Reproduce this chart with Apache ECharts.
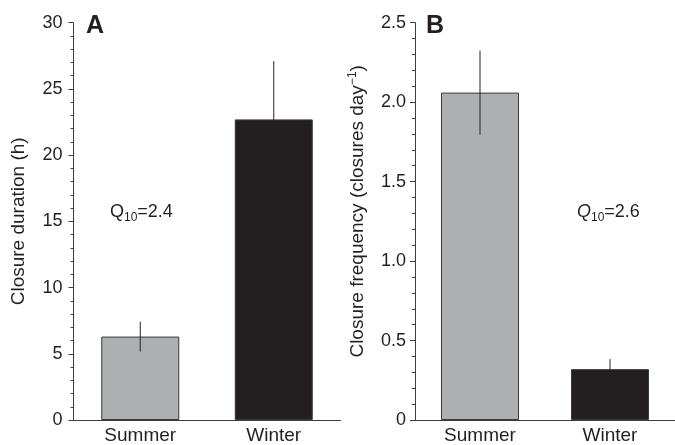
<!DOCTYPE html>
<html>
<head>
<meta charset="utf-8">
<script src="https://cdn.jsdelivr.net/npm/echarts@6/dist/echarts.min.js"></script>
<style>
html,body{margin:0;padding:0;background:#fff;}
#chart{width:675px;height:445px;}
</style>
</head>
<body>
<div id="chart"></div>
<script>
const categories = ['Summer', 'Winter'];
const durationMean = [6.3, 22.7];
const durationErr = [1.13, 4.4];
const frequencyMean = [2.06, 0.32];
const frequencyErr = [0.265, 0.063];
const q10Values = ['2.4', '2.6'];
const panelLetters = ['A', 'B'];
const barColors = ['#adafb1', '#231f20'];

const ink = '#231f20';
const axisColor = '#3d3d3d';
const fontFamily = '"Liberation Sans", Arial, Helvetica, sans-serif';

const chart = echarts.init(document.getElementById('chart'), null, {renderer: 'canvas'});

function barData(vals) {
  return vals.map((v, i) => ({value: v, itemStyle: {color: barColors[i]}}));
}
function errData(means, errs) {
  return means.map((m, i) => [i, m, errs[i]]);
}
function errRender(params, api) {
  const i = api.value(0), m = api.value(1), e = api.value(2);
  const top = api.coord([i, m + e]);
  const bot = api.coord([i, m - e]);
  return {
    type: 'line',
    shape: {x1: top[0], y1: top[1], x2: bot[0], y2: bot[1]},
    style: {stroke: '#262324', lineWidth: 1}
  };
}

function xAxisCfg(gi) {
  return {
    type: 'category', gridIndex: gi, data: categories,
    axisLine: {lineStyle: {color: axisColor, width: 1}},
    axisTick: {alignWithLabel: true, length: 6, lineStyle: {color: axisColor}},
    axisLabel: {color: ink, fontSize: 19, fontFamily: fontFamily, margin: 6}
  };
}
function yAxisCfg(gi, max, interval, fmt, name, nameGap, labelMargin, namePadding) {
  return {
    type: 'value', gridIndex: gi, min: 0, max: max, interval: interval,
    splitLine: {show: false},
    axisLine: {show: true, lineStyle: {color: axisColor, width: 1}},
    axisTick: {show: true, length: 5, lineStyle: {color: axisColor}},
    minorTick: {show: true, splitNumber: 5, length: 3, lineStyle: {color: axisColor}},
    axisLabel: {color: ink, fontSize: 18, fontFamily: fontFamily, margin: labelMargin, formatter: fmt},
    name: name, nameLocation: 'middle', nameGap: nameGap,
    nameTextStyle: {
      color: ink, fontSize: 19, fontFamily: fontFamily, padding: namePadding,
      rich: {
        n: {color: ink, fontSize: 19, fontFamily: fontFamily, lineHeight: 22, verticalAlign: 'middle'},
        sup: {color: ink, fontSize: 12, fontFamily: fontFamily, lineHeight: 22, verticalAlign: 'top', padding: [0, 0, 8, 0]}
      }
    }
  };
}

function q10Text(v, italic) {
  return (italic ? '{qi|Q}' : '{q|Q}') + '{s|10}{n|=' + v + '}';
}
const q10Rich = {
  q: {fill: ink, fontSize: 18, fontFamily: fontFamily, lineHeight: 24, verticalAlign: 'middle'},
  qi: {fill: ink, fontSize: 18, fontStyle: 'italic', fontFamily: fontFamily, lineHeight: 24, verticalAlign: 'middle'},
  s: {fill: ink, fontSize: 12, fontFamily: fontFamily, lineHeight: 13, verticalAlign: 'bottom'},
  n: {fill: ink, fontSize: 18, fontFamily: fontFamily, lineHeight: 24, verticalAlign: 'middle'}
};

const option = {
  backgroundColor: '#fff',
  animation: false,
  grid: [
    {left: 73.5, top: 22.7, width: 267, bottom: 24.3},
    {left: 415, top: 22.7, width: 267, bottom: 24.3}
  ],
  xAxis: [xAxisCfg(0), xAxisCfg(1)],
  yAxis: [
    yAxisCfg(0, 30, 5, v => String(v), 'Closure duration (h)', 45, 11, [0, 0, 0, 0]),
    yAxisCfg(1, 2.5, 0.5, v => v === 0 ? '0' : v.toFixed(1), '{n|Closure frequency (closures day}{sup|\u22121}{n|)}', 46, 9, [0, 0, 0, 20])
  ],
  series: [
    {type: 'bar', xAxisIndex: 0, yAxisIndex: 0, data: barData(durationMean), barWidth: 78,
     itemStyle: {borderColor: '#3a3a3a', borderWidth: 1}},
    {type: 'bar', xAxisIndex: 1, yAxisIndex: 1, data: barData(frequencyMean), barWidth: 78,
     itemStyle: {borderColor: '#3a3a3a', borderWidth: 1}},
    {type: 'custom', xAxisIndex: 0, yAxisIndex: 0, data: errData(durationMean, durationErr),
     renderItem: errRender, encode: {x: 0, y: 1}, z: 5},
    {type: 'custom', xAxisIndex: 1, yAxisIndex: 1, data: errData(frequencyMean, frequencyErr),
     renderItem: errRender, encode: {x: 0, y: 1}, z: 5}
  ],
  graphic: [
    {type: 'text', x: 86, y: 14, style: {text: panelLetters[0], fill: ink, font: 'bold 25px ' + fontFamily, verticalAlign: 'top'}},
    {type: 'text', x: 426, y: 14, style: {text: panelLetters[1], fill: ink, font: 'bold 25px ' + fontFamily, verticalAlign: 'top'}},
    {type: 'text', x: 110, y: 212, style: {text: q10Text(q10Values[0], false), rich: q10Rich, align: 'left', verticalAlign: 'middle'}},
    {type: 'text', x: 577, y: 212, style: {text: q10Text(q10Values[1], true), rich: q10Rich, align: 'left', verticalAlign: 'middle'}}
  ]
};
chart.setOption(option);
</script>
</body>
</html>
